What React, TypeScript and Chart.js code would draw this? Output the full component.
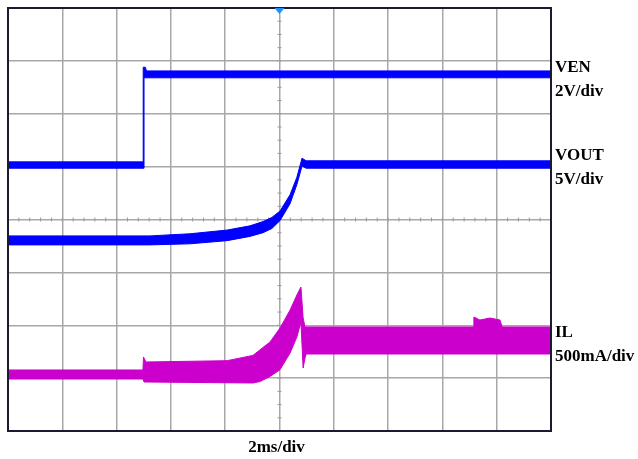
import React, { useEffect, useRef } from "react";
import { Chart, registerables } from "chart.js";

Chart.register(...registerables);

// Time axis in ms (2 ms/div, 10 divisions); vertical axis in screen divisions (8)
const X_MIN = 0;
const X_MAX = 20;
const X_STEP = 2;
const Y_MIN = 0;
const Y_MAX = 8;
const Y_STEP = 1;

// VEN (2V/div) envelope
const venUpperT = [0, 4.98, 4.98, 5.06, 5.1, 20];
const venUpperY = [5.09, 5.09, 6.88, 6.88, 6.81, 6.81];
const venLowerT = [0, 5.01, 5.01, 20];
const venLowerY = [4.97, 4.97, 6.68, 6.68];

// VOUT (5V/div) envelope
const voutUpperT = [0, 5.23, 6.7, 8.07, 8.91, 9.39, 9.72, 10.02, 10.39, 10.64, 10.83, 10.98, 20];
const voutUpperY = [3.69, 3.69, 3.73, 3.8, 3.88, 3.96, 4.04, 4.16, 4.47, 4.8, 5.16, 5.11, 5.11];
const voutLowerT = [0, 5.23, 6.7, 8.07, 8.91, 9.39, 9.72, 10.02, 10.39, 10.64, 10.83, 10.98, 20];
const voutLowerY = [3.52, 3.52, 3.54, 3.6, 3.68, 3.75, 3.83, 3.98, 4.3, 4.66, 5.01, 4.97, 4.97];

// IL (500mA/div) envelope
const ilUpperT = [0, 4.97, 4.99, 5.08, 8.07, 9.02, 9.65, 10.02, 10.39, 10.64, 10.79, 10.87, 10.94, 17.13, 17.16, 17.38, 17.75, 18.12, 18.2, 20];
const ilUpperY = [1.154, 1.154, 1.4, 1.305, 1.33, 1.43, 1.683, 1.948, 2.288, 2.572, 2.723, 2.137, 1.967, 1.967, 2.156, 2.099, 2.137, 2.099, 1.967, 1.967];
const ilLowerT = [0, 4.97, 5.01, 9.02, 9.28, 9.65, 10.02, 10.39, 10.64, 10.79, 10.83, 10.87, 10.94, 10.98, 20];
const ilLowerY = [0.983, 0.983, 0.927, 0.908, 0.935, 1.03, 1.16, 1.475, 1.778, 2.061, 1.626, 1.191, 1.381, 1.456, 1.456];

// Channel labels
const channelNames = ["VEN", "VOUT", "IL"];
const channelScales = ["2V/div", "5V/div", "500mA/div"];
const channelLabelLevels = [6.88, 5.2, 1.87];
const timeLabel = "2ms/div";
const triggerTime = 10;

const BLUE = "#0000ff";
const MAGENTA = "#cc00cc";
const FONT = "bold 17px 'Liberation Serif', 'Times New Roman', serif";

const zip = (t: number[], y: number[]) => t.map((x, i) => ({ x, y: y[i] }));

const scopePlugin = {
  id: "scopeDecor",
  beforeDatasetsDraw(chart: any) {
    const { ctx, scales } = chart;
    const xs = scales.x;
    const ys = scales.y;
    ctx.save();
    ctx.strokeStyle = "#9a9a9a";
    ctx.lineWidth = 1;
    const cx = xs.getPixelForValue((X_MIN + X_MAX) / 2);
    const cy = ys.getPixelForValue((Y_MIN + Y_MAX) / 2);
    // minor ticks along the vertical centre line (4 per division)
    for (let v = Y_MIN; v <= Y_MAX; v += 0.25) {
      const py = ys.getPixelForValue(v);
      ctx.beginPath();
      ctx.moveTo(cx - 2, py);
      ctx.lineTo(cx + 2, py);
      ctx.stroke();
    }
    // minor ticks along the horizontal centre line (5 per division)
    for (let t = X_MIN; t <= X_MAX + 1e-9; t += X_STEP / 5) {
      const px = xs.getPixelForValue(t);
      ctx.beginPath();
      ctx.moveTo(px, cy - 2);
      ctx.lineTo(px, cy + 2);
      ctx.stroke();
    }
    ctx.restore();
  },
  afterDatasetsDraw(chart: any) {
    const { ctx, chartArea, scales } = chart;
    const xs = scales.x;
    const ys = scales.y;
    ctx.save();
    // frame
    ctx.strokeStyle = "#1a1a30";
    ctx.lineWidth = 2;
    ctx.strokeRect(chartArea.left, chartArea.top, chartArea.right - chartArea.left, chartArea.bottom - chartArea.top);
    // trigger marker
    const tx = xs.getPixelForValue(triggerTime);
    ctx.fillStyle = "#1e8fff";
    ctx.beginPath();
    ctx.moveTo(tx - 5, chartArea.top);
    ctx.lineTo(tx + 5, chartArea.top);
    ctx.lineTo(tx, chartArea.top + 6);
    ctx.closePath();
    ctx.fill();
    // labels
    ctx.fillStyle = "#000";
    ctx.font = FONT;
    ctx.textBaseline = "middle";
    ctx.textAlign = "left";
    channelNames.forEach((name, i) => {
      const py = ys.getPixelForValue(channelLabelLevels[i]);
      ctx.fillText(name, chartArea.right + 4, py);
      ctx.fillText(channelScales[i], chartArea.right + 4, py + 24);
    });
    ctx.textAlign = "center";
    ctx.fillText(timeLabel, (chartArea.left + chartArea.right) / 2 - 3, chartArea.bottom + 17);
    ctx.restore();
  },
};

export default function App() {
  const ref = useRef<HTMLCanvasElement | null>(null);
  useEffect(() => {
    if (!ref.current) return;
    const band = (label: string, color: string, up: any[], lo: any[]) => [
      {
        label: label + " upper",
        data: up,
        borderColor: color,
        backgroundColor: color,
        borderWidth: 1,
        pointRadius: 0,
        fill: "+1",
        tension: 0,
      },
      {
        label: label + " lower",
        data: lo,
        borderColor: color,
        backgroundColor: color,
        borderWidth: 1,
        pointRadius: 0,
        fill: false,
        tension: 0,
      },
    ];
    const chart = new Chart(ref.current, {
      type: "line",
      data: {
        datasets: [
          ...band("VEN", BLUE, zip(venUpperT, venUpperY), zip(venLowerT, venLowerY)),
          ...band("VOUT", BLUE, zip(voutUpperT, voutUpperY), zip(voutLowerT, voutLowerY)),
          ...band("IL", MAGENTA, zip(ilUpperT, ilUpperY), zip(ilLowerT, ilLowerY)),
        ] as any,
      },
      options: {
        animation: false,
        responsive: false,
        devicePixelRatio: 1,
        layout: { padding: { left: 8, top: 8, right: 87, bottom: 28 } },
        plugins: { legend: { display: false }, tooltip: { enabled: false } },
        scales: {
          x: {
            type: "linear",
            min: X_MIN,
            max: X_MAX,
            ticks: { display: false, stepSize: X_STEP },
            grid: { color: "#a8a8a8", lineWidth: 1.5, drawTicks: false },
            border: { display: false },
          },
          y: {
            type: "linear",
            min: Y_MIN,
            max: Y_MAX,
            ticks: { display: false, stepSize: Y_STEP },
            grid: { color: "#a8a8a8", lineWidth: 1.5, drawTicks: false },
            border: { display: false },
          },
        },
      },
      plugins: [scopePlugin],
    });
    return () => chart.destroy();
  }, []);
  return (
    <div style={{ position: "absolute", left: 0, top: 0, width: 638, height: 459, background: "#fff" }}>
      <canvas ref={ref} width={638} height={459} />
    </div>
  );
}
